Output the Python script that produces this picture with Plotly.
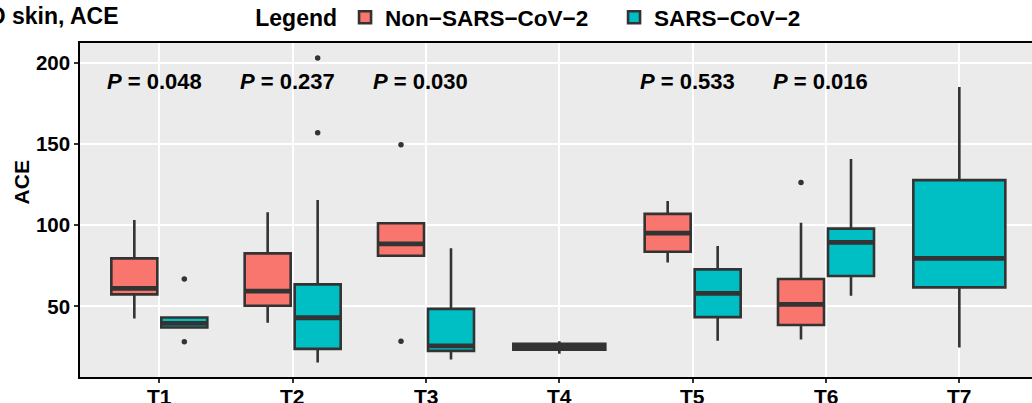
import plotly.graph_objects as go

# ---------------- data ----------------
categories = ["T1", "T2", "T3", "T4", "T5", "T6", "T7"]

# Non-SARS-CoV-2 box statistics
non_cats = ["T1", "T2", "T3", "T5", "T6"]
non_lower = [42.6, 39.9, 81.2, 77.0, 29.6]
non_q1 = [57.4, 50.4, 81.2, 83.7, 38.5]
non_median = [61.1, 59.4, 88.5, 95.1, 51.2]
non_q3 = [79.6, 82.7, 101.2, 107.0, 66.9]
non_upper = [103.3, 108.0, 101.2, 115.0, 101.6]
non_out_cats = ["T3", "T3", "T6"]
non_out_vals = [149.6, 28.6, 126.3]

# SARS-CoV-2 box statistics
sars_cats = ["T1", "T2", "T3", "T4", "T5", "T6", "T7"]
sars_lower = [37.0, 15.4, 17.3, 20.8, 28.8, 56.5, 24.7]
sars_q1 = [37.0, 23.8, 22.6, 23.3, 43.4, 68.7, 61.7]
sars_median = [39.5, 43.0, 25.7, 25.1, 58.0, 89.5, 79.6]
sars_q3 = [43.2, 63.6, 48.5, 27.0, 72.8, 97.9, 127.8]
sars_upper = [43.2, 115.6, 85.8, 28.6, 87.2, 140.9, 185.2]
sars_out_cats = ["T1", "T1", "T2", "T2"]
sars_out_vals = [66.9, 28.2, 203.1, 157.0]

# P values
p_cats = ["T1", "T2", "T3", "T5", "T6"]
p_labels = ["0.048", "0.237", "0.030", "0.533", "0.016"]
p_y = 188.6

# ---------------- style ----------------
NON_COLOR = "#F8766D"
SARS_COLOR = "#00BFC4"
EDGE = "#333333"
FONT = "Liberation Sans, Arial, Helvetica, sans-serif"
DODGE = 0.1875
HALF_W = 0.345
FULL_W = 0.69

cat_index = {c: i + 1 for i, c in enumerate(categories)}


def layout_positions(cats, other_cats, side):
    pos, widths = [], []
    for c in cats:
        if c in other_cats:
            pos.append(cat_index[c] + side * DODGE)
            widths.append(HALF_W)
        else:
            pos.append(cat_index[c])
            widths.append(FULL_W)
    return pos, widths


fig = go.Figure()


def add_group(name, color, cats, other, side, lower, q1, med, q3, upper, out_cats, out_vals):
    pos, widths = layout_positions(cats, other, side)
    for w in sorted(set(widths), reverse=True):
        idx = [i for i, ww in enumerate(widths) if ww == w]
        fig.add_trace(go.Box(
            x=[pos[i] for i in idx],
            q1=[q1[i] for i in idx],
            median=[med[i] for i in idx],
            q3=[q3[i] for i in idx],
            lowerfence=[lower[i] for i in idx],
            upperfence=[upper[i] for i in idx],
            width=w,
            whiskerwidth=0,
            fillcolor=color,
            line=dict(color=EDGE, width=2.6),
            name=name,
            legendgroup=name,
            showlegend=(w == HALF_W),
            boxpoints=False,
            hoverinfo="skip",
        ))
    # thick median lines (like ggplot fatten)
    mx, my = [], []
    for p, w, m in zip(pos, widths, med):
        mx += [p - w / 2, p + w / 2, None]
        my += [m, m, None]
    fig.add_trace(go.Scatter(x=mx, y=my, mode="lines",
                             line=dict(color=EDGE, width=4.8),
                             showlegend=False, hoverinfo="skip"))
    # outliers
    ox = []
    for c in out_cats:
        ox.append(cat_index[c] + (side * DODGE if c in other else 0))
    fig.add_trace(go.Scatter(x=ox, y=out_vals, mode="markers",
                             marker=dict(color=EDGE, size=5.5),
                             showlegend=False, hoverinfo="skip"))


add_group("Non\u2212SARS\u2212CoV\u22122", NON_COLOR, non_cats, sars_cats, -1,
          non_lower, non_q1, non_median, non_q3, non_upper, non_out_cats, non_out_vals)
add_group("SARS\u2212CoV\u22122", SARS_COLOR, sars_cats, non_cats, +1,
          sars_lower, sars_q1, sars_median, sars_q3, sars_upper, sars_out_cats, sars_out_vals)

annotations = []
for c, lab in zip(p_cats, p_labels):
    annotations.append(dict(
        x=cat_index[c] - 0.04, y=p_y, xref="x", yref="y",
        text="<b><i>P</i> = " + lab + "</b>", showarrow=False,
        font=dict(family=FONT, size=22, color="black"),
        xanchor="center", yanchor="middle"))

# category labels under the x axis
for c in categories:
    annotations.append(dict(
        x=cat_index[c], y=0, xref="x", yref="paper",
        text="<b>" + c + "</b>", showarrow=False,
        font=dict(family=FONT, size=21, color="black"),
        xanchor="center", yanchor="top", yshift=-6))

annotations.append(dict(
    x=-0.098, y=1.082, xref="paper", yref="paper",
    text="<b>D skin, ACE</b>", showarrow=False,
    font=dict(family=FONT, size=23, color="black"),
    xanchor="left", yanchor="middle"))

annotations.append(dict(
    x=-0.062, y=0.5825, xref="paper", yref="paper",
    text="<b>ACE</b>", showarrow=False, textangle=-90,
    font=dict(family=FONT, size=21, color="black"),
    xanchor="center", yanchor="middle"))

fig.update_layout(
    width=1032, height=403,
    margin=dict(l=80, r=0, t=43, b=26, autoexpand=False),
    paper_bgcolor="white",
    plot_bgcolor="#EBEBEB",
    boxmode="overlay",
    font=dict(family=FONT, color="black"),
    annotations=annotations,
    legend=dict(
        orientation="h", x=0.182, y=1.076, xanchor="left", yanchor="middle",
        title=dict(text="<b>Legend</b>", font=dict(family=FONT, size=23, color="black")),
        font=dict(family=FONT, size=22.5, color="black", weight="bold"),
        bgcolor="rgba(0,0,0,0)", itemwidth=30, entrywidth=224,
    ),
    xaxis=dict(
        range=[0.405, 7.545],
        tickvals=[cat_index[c] for c in categories],
        showticklabels=False,
        automargin=False,
        showgrid=True, gridcolor="white", gridwidth=2,
        showline=True, linecolor="black", linewidth=1.6, mirror=True,
        ticks="outside", ticklen=4, tickwidth=2, tickcolor="#333333",
        zeroline=False,
    ),
    yaxis=dict(
        range=[6.5, 212.3],
        tickvals=[50, 100, 150, 200],
        tickfont=dict(family=FONT, size=20.5, color="black", weight="bold"),
        automargin=False,
        showgrid=True, gridcolor="white", gridwidth=2,
        showline=True, linecolor="black", linewidth=1.6, mirror=False,
        ticks="outside", ticklen=4, tickwidth=2, tickcolor="#333333",
        zeroline=False,
    ),
)

fig.write_html("out.html")
